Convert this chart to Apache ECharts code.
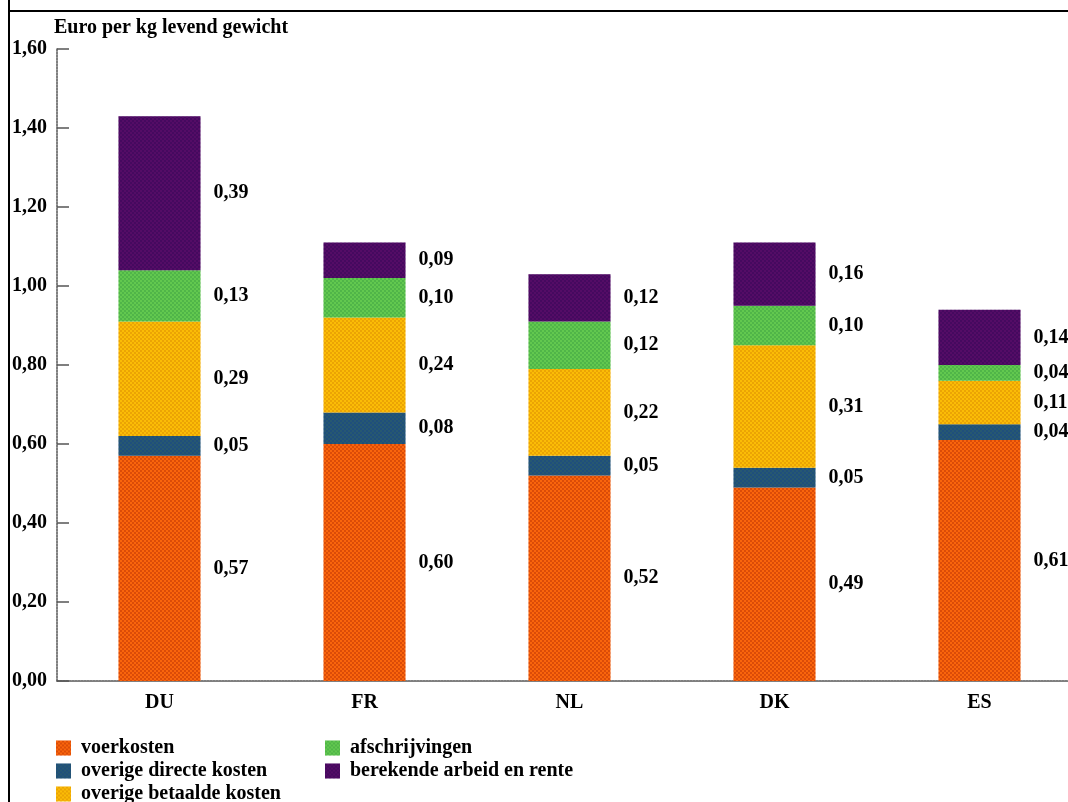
<!DOCTYPE html>
<html>
<head>
<meta charset="utf-8">
<script src="https://cdn.jsdelivr.net/npm/echarts@6/dist/echarts.min.js"></script>
<style>
html,body{margin:0;padding:0;background:#fff;overflow:hidden;width:1068px;height:802px;}
#c{width:1082px;height:802px;}
</style>
</head>
<body>
<div id="c"></div>
<script>
var categories = ['DU', 'FR', 'NL', 'DK', 'ES'];
var voerkosten = [0.57, 0.60, 0.52, 0.49, 0.61];
var overigeDirecte = [0.05, 0.08, 0.05, 0.05, 0.04];
var overigeBetaalde = [0.29, 0.24, 0.22, 0.31, 0.11];
var afschrijvingen = [0.13, 0.10, 0.12, 0.10, 0.04];
var arbeidRente = [0.39, 0.09, 0.12, 0.16, 0.14];
var seriesNames = ['voerkosten', 'overige directe kosten', 'overige betaalde kosten', 'afschrijvingen', 'berekende arbeid en rente'];
var yTicks = [0, 0.2, 0.4, 0.6, 0.8, 1.0, 1.2, 1.4, 1.6];

var colors = ['#fa650c', '#1f4f7c', '#fbbc06', '#62c84f', '#45095f'];
var dotColors = ['rgba(150,20,0,0.45)', 'rgba(60,110,90,0.45)', 'rgba(200,110,0,0.45)', 'rgba(40,140,60,0.45)', 'rgba(120,20,120,0.45)'];
var font = '"Liberation Serif", "DejaVu Serif", serif';
function fmt(v){ return v.toFixed(2).replace('.', ','); }

var dataSets = [voerkosten, overigeDirecte, overigeBetaalde, afschrijvingen, arbeidRente];
var series = dataSets.map(function(d, i){
  return {
    name: seriesNames[i],
    type: 'bar',
    stack: 'total',
    barWidth: '40%',
    data: d,
    itemStyle: {
      color: colors[i],
      decal: {
        symbol: 'circle',
        symbolSize: 0.9,
        color: dotColors[i],
        dashArrayX: [[2, 2], [0, 2, 2, 0]],
        dashArrayY: [2, 0],
        rotation: 0
      }
    },
    label: {
      show: true,
      position: 'right',
      distance: 13,
      color: '#000',
      fontFamily: font,
      fontSize: 20,
      fontWeight: 'bold',
      formatter: function(p){ return fmt(p.value); }
    }
  };
});

var legends = seriesNames.map(function(n, i){
  var col = i < 3 ? 0 : 1;
  var row = i < 3 ? i : i - 3;
  return {
    data: [n],
    orient: 'vertical',
    left: col === 0 ? 56 : 325,
    top: 738 + row * 23,
    padding: 0,
    icon: 'rect', itemWidth: 15, itemHeight: 15,
    textStyle: { fontFamily: font, fontSize: 20, fontWeight: 'bold', color: '#000', padding: [0, 0, 0, 5] }
  };
});

var chart = echarts.init(document.getElementById('c'), null, {renderer: 'canvas'});
chart.setOption({
  animation: false,
  backgroundColor: '#fff',
  grid: { left: 57, top: 49, right: 0, bottom: 121, containLabel: false },
  title: {
    text: 'Euro per kg levend gewicht',
    left: 49, top: 13,
    textStyle: { fontFamily: font, fontSize: 20, fontWeight: 'bold', color: '#000' }
  },
  legend: legends,
  xAxis: {
    type: 'category',
    data: categories,
    axisLine: { lineStyle: { color: '#555', type: [2, 1], width: 1.5 } },
    axisTick: { inside: true, length: 12, lineStyle: { color: '#555', type: [2, 1], width: 1.5 } },
    axisLabel: { margin: 12, fontFamily: font, fontSize: 20, fontWeight: 'bold', color: '#000' }
  },
  yAxis: {
    type: 'value',
    min: yTicks[0], max: yTicks[yTicks.length - 1], interval: 0.2,
    axisLine: { show: true, lineStyle: { color: '#555', type: [2, 1], width: 1.5 } },
    axisTick: { show: true, inside: true, length: 12, lineStyle: { color: '#555', width: 1.5 } },
    splitLine: { show: false },
    axisLabel: { margin: 10, fontFamily: font, fontSize: 20, fontWeight: 'bold', color: '#000', formatter: function(v){ return fmt(v); } }
  },
  series: series,
  graphic: [
    { type: 'line', shape: { x1: 9, y1: 0, x2: 9, y2: 802 }, style: { stroke: '#000', lineWidth: 2 }, z: 100 },
    { type: 'line', shape: { x1: 8, y1: 11, x2: 1082, y2: 11 }, style: { stroke: '#000', lineWidth: 2 }, z: 100 }
  ]
});
</script>
</body>
</html>
